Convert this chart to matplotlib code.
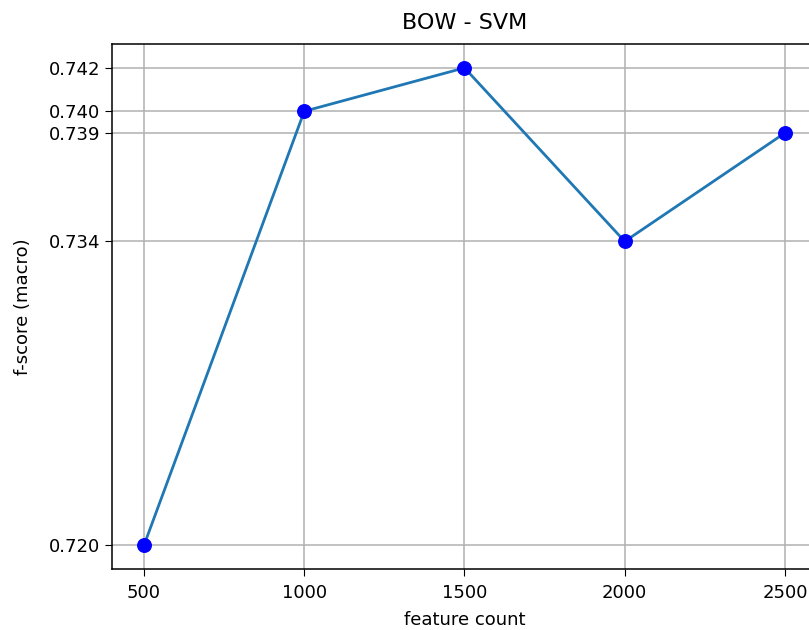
import matplotlib
matplotlib.use("Agg")
import matplotlib.pyplot as plt

feature_counts = [500, 1000, 1500, 2000, 2500]
f_scores = [0.720, 0.740, 0.742, 0.734, 0.739]

plt.rcParams["font.size"] = 13
plt.rcParams["xtick.major.size"] = 5
plt.rcParams["ytick.major.size"] = 5
plt.rcParams["axes.linewidth"] = 1.1

fig = plt.figure(figsize=(8.09, 6.30), dpi=100)
ax = fig.add_axes([112 / 809, 61 / 630, 705 / 809, 525 / 630])

ax.plot(feature_counts, f_scores, linewidth=2)
ax.scatter(feature_counts, f_scores, color="blue", s=95, zorder=3)
ax.set_xticks(feature_counts)
ax.set_yticks(f_scores)
ax.tick_params(axis="x", pad=6)
ax.grid(True, linewidth=1.1)
ax.set_title("BOW - SVM", fontsize=16, pad=11)
ax.set_xlabel("feature count", labelpad=6)
ax.set_ylabel("f-score (macro)", labelpad=12)

fig.savefig("out.png", dpi=100)
